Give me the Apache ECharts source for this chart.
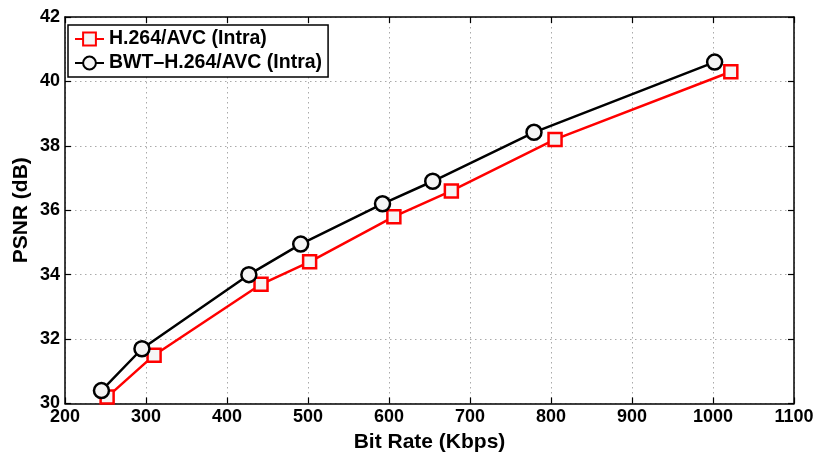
<!DOCTYPE html>
<html>
<head>
<meta charset="utf-8">
<script src="https://cdn.jsdelivr.net/npm/echarts@6/dist/echarts.min.js"></script>
<style>
    html, body { margin: 0; padding: 0; background: #fff; }
    #chart { width: 818px; height: 453px; }
</style>
</head>
<body>
<div id="chart"></div>
<script>
    // data
    const avcRate = [252, 310, 442, 502, 606, 677, 805, 1022]
    const avcPsnr = [30.2, 31.5, 33.7, 34.4, 35.8, 36.6, 38.2, 40.3]
    const bwtRate = [245, 295, 427, 491, 592, 654, 779, 1002]
    const bwtPsnr = [30.4, 31.7, 34.0, 34.95, 36.2, 36.9, 38.42, 40.6]
    const seriesNames = ['H.264/AVC (Intra)', 'BWT\u2013H.264/AVC (Intra)']

    const font = 'Liberation Sans, Arial, sans-serif'
    const chart = echarts.init(document.getElementById('chart'))

    const frameAxis = (pos, min, max, step) => ({
        type: 'value',
        position: pos,
        min: min, max: max, interval: step,
        axisLine: { show: true, lineStyle: { color: '#000', width: 1.5 } },
        axisTick: { show: true, inside: true, length: 6, lineStyle: { color: '#000', width: 1.2 } },
        axisLabel: { show: false },
        splitLine: { show: false }
    })

    chart.setOption({
        animation: false,
        grid: { left: 65, right: 24, top: 17, bottom: 49.5, outerBoundsMode: 'none', containLabel: false },
        legend: {
            orient: 'vertical',
            left: 68, top: 25,
            data: seriesNames,
            backgroundColor: '#fff',
            borderColor: '#000',
            borderWidth: 1.5,
            padding: [4, 6, 4, 6],
            itemGap: 4,
            itemWidth: 29,
            itemHeight: 16,
            textStyle: { fontFamily: font, fontWeight: 'bold', fontSize: 19.5, color: '#000' }
        },
        xAxis: [
            {
                type: 'value',
                min: 200, max: 1100, interval: 100,
                name: 'Bit Rate (Kbps)',
                nameLocation: 'middle',
                nameGap: 27,
                nameTextStyle: { fontFamily: font, fontWeight: 'bold', fontSize: 21, color: '#000' },
                axisLine: { show: true, lineStyle: { color: '#000', width: 1.5 } },
                axisTick: { show: true, inside: true, length: 6, lineStyle: { color: '#000', width: 1.2 } },
                axisLabel: {
                    fontFamily: font, fontWeight: 'bold', fontSize: 18, color: '#000', margin: 5,
                    formatter: v => String(v)
                },
                splitLine: { show: true, lineStyle: { color: '#aaa', type: [1.5, 3.5], width: 1 } }
            },
            frameAxis('top', 200, 1100, 100)
        ],
        yAxis: [
            {
                type: 'value',
                min: 30, max: 42, interval: 2,
                name: 'PSNR (dB)',
                nameLocation: 'middle',
                nameGap: 33,
                nameMoveOverlap: false,
                nameTextStyle: { fontFamily: font, fontWeight: 'bold', fontSize: 21, color: '#000' },
                axisLine: { show: true, lineStyle: { color: '#000', width: 1.5 } },
                axisTick: { show: true, inside: true, length: 6, lineStyle: { color: '#000', width: 1.2 } },
                axisLabel: { fontFamily: font, fontWeight: 'bold', fontSize: 18, color: '#000', margin: 5 },
                splitLine: { show: true, lineStyle: { color: '#aaa', type: [1.5, 3.5], width: 1 } }
            },
            frameAxis('right', 30, 42, 2)
        ],
        series: [
            {
                name: seriesNames[0],
                type: 'line',
                data: avcRate.map((r, i) => [r, avcPsnr[i]]),
                symbol: 'rect',
                symbolSize: 13,
                z: 2,
                lineStyle: { color: '#ff0000', width: 2.5 },
                itemStyle: { color: '#f5f5f5', borderColor: '#ff0000', borderWidth: 2.5 }
            },
            {
                name: seriesNames[1],
                type: 'line',
                data: bwtRate.map((r, i) => [r, bwtPsnr[i]]),
                symbol: 'circle',
                symbolSize: 15,
                z: 3,
                lineStyle: { color: '#000', width: 2.5 },
                itemStyle: { color: '#f5f5f5', borderColor: '#000', borderWidth: 2.5 }
            }
        ]
    })
</script>
</body>
</html>
